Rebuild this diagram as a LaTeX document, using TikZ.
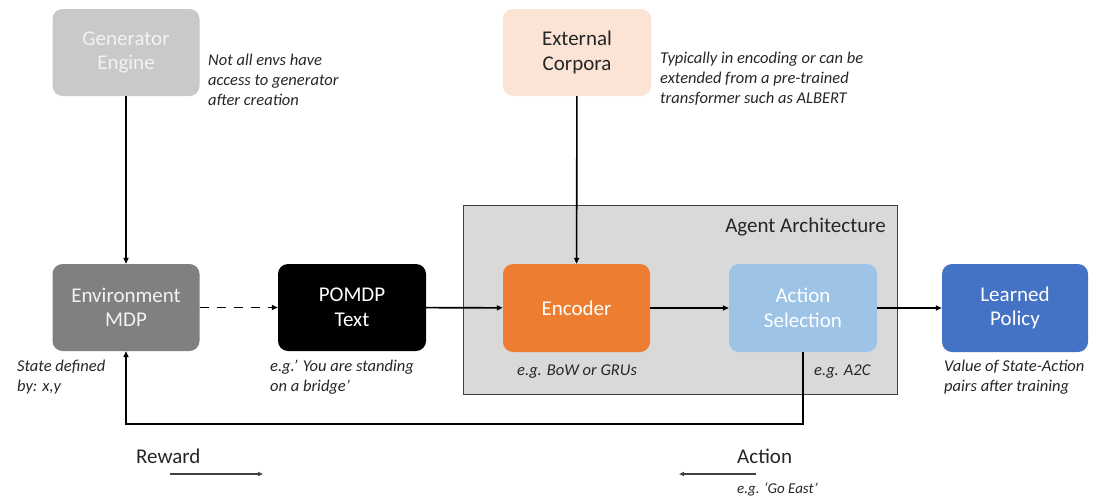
\documentclass[tikz,border=0pt]{standalone}
\usepackage{fontspec}
\setmainfont{Carlito}
\usetikzlibrary{arrows.meta}
\definecolor{gengray}{HTML}{C9C9C9}
\definecolor{envgray}{HTML}{808080}
\definecolor{peach}{HTML}{FBE3D6}
\definecolor{encorange}{HTML}{ED7D31}
\definecolor{actblue}{HTML}{9DC3E6}
\definecolor{polblue}{HTML}{4472C4}
\definecolor{agentfill}{HTML}{D9D9D9}
\definecolor{agentdraw}{HTML}{404040}
\definecolor{txtdark}{HTML}{262626}
\definecolor{lighttxt}{HTML}{F2F2F2}
\begin{document}
\begin{tikzpicture}[x=1pt,y=-1pt,
  box/.style={rectangle, rounded corners=10pt, minimum width=147pt, minimum height=87pt, inner sep=0pt, align=center, font=\fontsize{21}{24.5}\selectfont},
  note/.style={align=left, inner sep=0pt, font=\fontsize{16.5}{20}\selectfont\itshape, anchor=base west, text=txtdark},
  lbl/.style={inner sep=0pt, font=\fontsize{21}{25}\selectfont, text=txtdark},
  arr/.style={-{Triangle[length=6pt,width=5pt]}, line width=1.6pt, black},
  smallarr/.style={-{Triangle[length=5pt,width=4pt]}, line width=1.3pt, agentdraw},
]
\useasboundingbox (0,0) rectangle (1100,496);

% agent architecture background
\node[rectangle, fill=agentfill, draw=agentdraw, line width=1pt, minimum width=434pt, minimum height=189pt, inner sep=0pt] (agent) at (680,299.5) {};
\node[lbl, anchor=base east] (agentlbl) at (886,232) {Agent Architecture};

% boxes
\node[box, fill=gengray, text=lighttxt] (gen) at (126,52.5) {Generator\\Engine};
\node[box, fill=peach, text=txtdark, minimum width=148pt] (ext) at (577,52.5) {External\\Corpora};
\node[box, fill=envgray, text=lighttxt] (env) at (126,307.5) {Environment\\MDP};
\node[box, fill=black, text=white, minimum width=148pt] (pom) at (352,307.5) {POMDP\\Text};
\node[box, fill=encorange, text=white, minimum height=88pt] (enc) at (576.5,308) {Encoder};
\node[box, fill=actblue, text=white, minimum height=88pt, minimum width=148pt] (act) at (803,308) {Action\\Selection};
\node[box, fill=polblue, text=white, minimum height=88pt, minimum width=146pt] (pol) at (1015,308) {Learned\\Policy};

% notes (base anchor = baseline of the last line)
\node[note] (n1) at (208,105) {Not all envs have\\access to generator\\after creation};
\node[note] (n2) at (660,103) {Typically in encoding or can be\\extended from a pre-trained\\transformer such as ALBERT};
\node[note] (n3) at (17,391) {State defined\\by: x,y};
\node[note] (n4) at (270,391) {e.g.' You are standing\\on a bridge'};
\node[note] (n5) at (517,375) {e.g. BoW or GRUs};
\node[note] (n6) at (814,375) {e.g. A2C};
\node[note] (n7) at (944,391) {Value of State-Action\\pairs after training};

% connectors
\draw[arr] (gen) -- (env);
\draw[arr] (ext) -- (enc);
\draw[arr, dash pattern=on 9pt off 8pt] (env) -- (pom);
\draw[arr] (pom) -- (enc);
\draw[arr] (enc) -- (act);
\draw[arr] (act) -- (pol);
\draw[arr] (act.south) -- ++(0,72) -| (env.south);

% legend
\node[lbl, anchor=base west] (rew) at (136,463) {Reward};
\coordinate (r1) at (170,474);
\coordinate (r2) at (263,474);
\draw[smallarr] (r1) -- (r2);
\node[lbl, anchor=base west] (actl) at (737,463) {Action};
\coordinate (a1) at (756,474);
\coordinate (a2) at (679,474);
\draw[smallarr] (a1) -- (a2);
\node[note, font=\fontsize{15}{18}\selectfont\itshape] (n8) at (737,493) {e.g. `Go East'};
\end{tikzpicture}
\end{document}
